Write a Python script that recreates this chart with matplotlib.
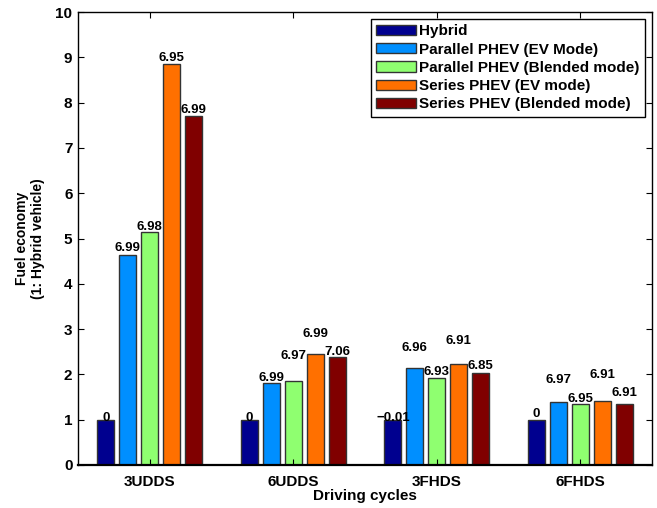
import matplotlib
matplotlib.use("Agg")
import matplotlib.pyplot as plt
import numpy as np

plt.rcParams['font.family'] = ['Liberation Sans', 'DejaVu Sans']
plt.rcParams['font.weight'] = 'bold'

cycles = ["3UDDS", "6UDDS", "3FHDS", "6FHDS"]
series = ["Hybrid", "Parallel PHEV (EV Mode)", "Parallel PHEV (Blended mode)",
          "Series PHEV (EV mode)", "Series PHEV (Blended mode)"]

# fuel economy relative to hybrid, one list per series (over cycles)
hybrid = [1.0, 1.0, 1.0, 1.0]
par_ev = [4.63, 1.80, 2.15, 1.38]
par_blend = [5.14, 1.85, 1.93, 1.35]
ser_ev = [8.85, 2.46, 2.22, 1.42]
ser_blend = [7.70, 2.38, 2.02, 1.35]

# text printed over each bar
hybrid_txt = ["0", "0", "\u22120.01", "0"]
par_ev_txt = ["6.99", "6.99", "6.96", "6.97"]
par_blend_txt = ["6.98", "6.97", "6.93", "6.95"]
ser_ev_txt = ["6.95", "6.99", "6.91", "6.91"]
ser_blend_txt = ["6.99", "7.06", "6.85", "6.91"]

values = [hybrid, par_ev, par_blend, ser_ev, ser_blend]
texts = [hybrid_txt, par_ev_txt, par_blend_txt, ser_ev_txt, ser_blend_txt]
# how far above the bar top each label sits (pixels)
lift = [[2, 2, 2, 6],
        [7, 5, 20, 22],
        [5, 25, 6, 5],
        [6, 20, 23, 26],
        [6, 5, 7, 11]]

colors = [(0, 0, 0.5625), (0, 0.5625, 1), (0.5625, 1, 0.4375),
          (1, 0.4375, 0), (0.5, 0, 0)]

fig = plt.figure(figsize=(6.57, 5.08), dpi=100)
ax = fig.add_axes([78/657, 43/508, 574/657, 453/508])

index = np.arange(1, len(cycles) + 1)
step = 0.153
bar_width = 0.118

for k in range(len(series)):
    pos = index + (k - 2) * step
    rects = ax.bar(pos, values[k], bar_width, color=colors[k],
                   edgecolor='#333333', linewidth=1.0, label=series[k])
    for x, v, t, d in zip(pos, values[k], texts[k], lift[k]):
        ax.annotate(t, (x, v), xytext=(0, d * 0.72), textcoords='offset points',
                    ha='center', va='center', fontsize=9.5, fontweight='bold')

ax.set_xlim(0.5, 4.5)
ax.set_ylim(0, 10)
ax.set_yticks(range(0, 11))
ax.set_xticks(index)
ax.set_xticklabels(cycles)
ax.tick_params(direction='in', length=4, width=0.8, labelsize=11,
               top=True, right=True)
ax.tick_params(axis='x', pad=7)
ax.tick_params(axis='y', pad=4)
for s in ax.spines.values():
    s.set_linewidth(1.0)
ax.spines['bottom'].set_linewidth(1.6)

ax.set_xlabel("Driving cycles", fontsize=11, fontweight='bold')
ax.set_ylabel("Fuel economy\n(1: Hybrid vehicle)", fontsize=10,
              fontweight='bold')
ax.xaxis.set_label_coords(0.5, -0.054)
ax.yaxis.set_label_coords(-0.057, 0.5)

leg = ax.legend(loc='upper right', fontsize=11, fancybox=False,
                edgecolor='black', framealpha=1, handlelength=2.6,
                handleheight=0.65, handletextpad=0.25, labelspacing=0.28,
                borderpad=0.35, borderaxespad=0.45)
leg.get_frame().set_linewidth(1.0)

fig.savefig("out.png", dpi=100)
